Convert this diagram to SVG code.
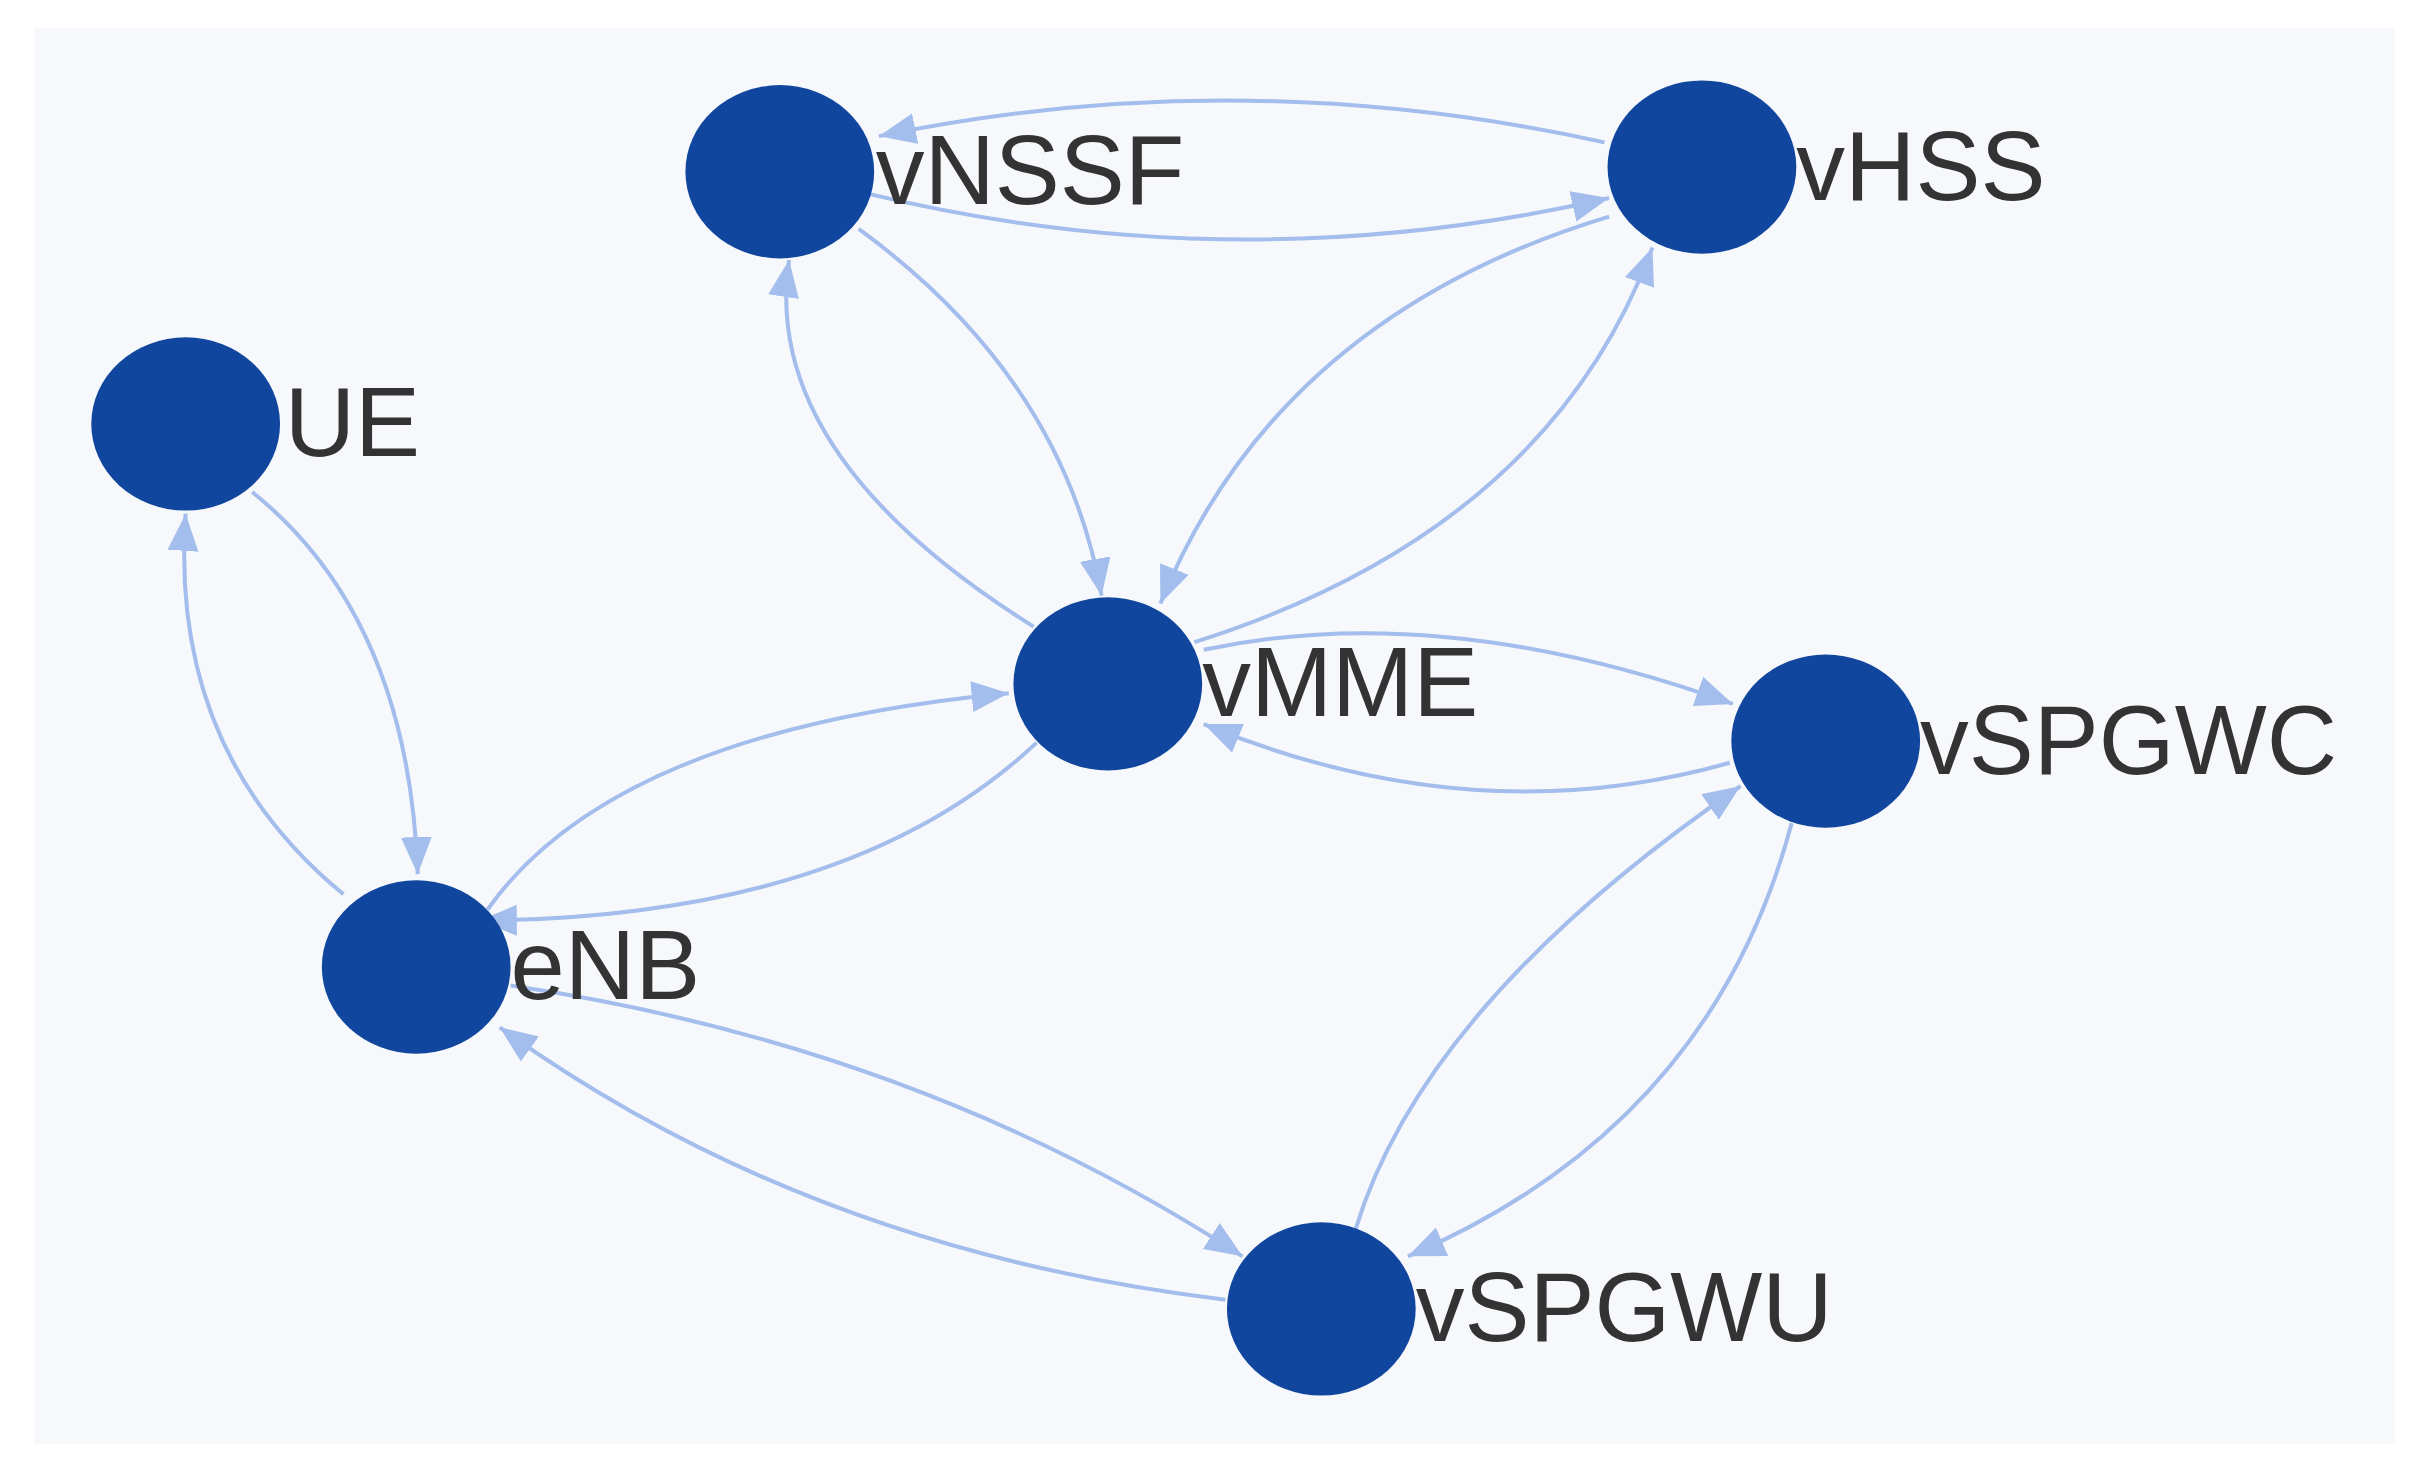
<svg xmlns="http://www.w3.org/2000/svg" width="2426" height="1484" viewBox="0 0 2426 1484">
<style>
.e{fill:none;stroke:#a3bdec;stroke-width:2.6}
.n{fill:#11469e}
.t{font-family:"Liberation Sans",Arial,sans-serif;font-size:63px;fill:#333}
</style>
<defs>
<marker id="a" markerUnits="userSpaceOnUse" markerWidth="30" markerHeight="24" refX="24" refY="10" orient="auto">
<path d="M0,0 L24,10 L0,20 Z" fill="#a3bdec"/>
</marker>
</defs>
<rect width="2426" height="1484" fill="#fff"/>
<g transform="scale(1.5472)">
<rect x="22" y="18" width="1526" height="915" fill="#f6f8fb"/>
<g id="edges">
<path class="e" marker-end="url(#a)" d="M1037,92 Q800,40 568,88"/>
<path class="e" marker-end="url(#a)" d="M560,125 Q800,183 1040,128"/>
<path class="e" marker-end="url(#a)" d="M555,148 Q687,244 712,385"/>
<path class="e" marker-end="url(#a)" d="M668,405 Q491,294 510,168"/>
<path class="e" marker-end="url(#a)" d="M1040,140 Q825,205 750,390"/>
<path class="e" marker-end="url(#a)" d="M772,415 Q1000,343 1068,160"/>
<path class="e" marker-end="url(#a)" d="M778,420 Q931,387 1120,455"/>
<path class="e" marker-end="url(#a)" d="M1118,493 Q952,540 778,468"/>
<path class="e" marker-end="url(#a)" d="M315,588 Q397,472 652,448"/>
<path class="e" marker-end="url(#a)" d="M670,480 Q550,593 310,595"/>
<path class="e" marker-end="url(#a)" d="M163,318 Q264,399 270,565"/>
<path class="e" marker-end="url(#a)" d="M222,578 Q109,485 120,332"/>
<path class="e" marker-end="url(#a)" d="M330,637 Q594,676 803,812"/>
<path class="e" marker-end="url(#a)" d="M792,840 Q523,808 323,664"/>
<path class="e" marker-end="url(#a)" d="M1158,532 Q1106,728 910,812"/>
<path class="e" marker-end="url(#a)" d="M876,795 Q920,649 1125,508"/>
</g>
<g id="UE"><ellipse class="n" cx="120" cy="274" rx="61" ry="56"/><text class="t" x="184" y="295">UE</text></g>
<g id="vNSSF"><ellipse class="n" cx="504" cy="111" rx="61" ry="56"/><text class="t" x="566" y="132">vNSSF</text></g>
<g id="vHSS"><ellipse class="n" cx="1100" cy="108" rx="61" ry="56"/><text class="t" x="1161" y="129">vHSS</text></g>
<g id="vMME"><ellipse class="n" cx="716" cy="442" rx="61" ry="56"/><text class="t" x="777" y="463">vMME</text></g>
<g id="vSPGWC"><ellipse class="n" cx="1180" cy="479" rx="61" ry="56"/><text class="t" x="1241" y="500">vSPGWC</text></g>
<g id="eNB"><ellipse class="n" cx="269" cy="625" rx="61" ry="56"/><text class="t" x="330" y="646">eNB</text></g>
<g id="vSPGWU"><ellipse class="n" cx="854" cy="846" rx="61" ry="56"/><text class="t" x="915" y="867">vSPGWU</text></g>
</g>
</svg>
